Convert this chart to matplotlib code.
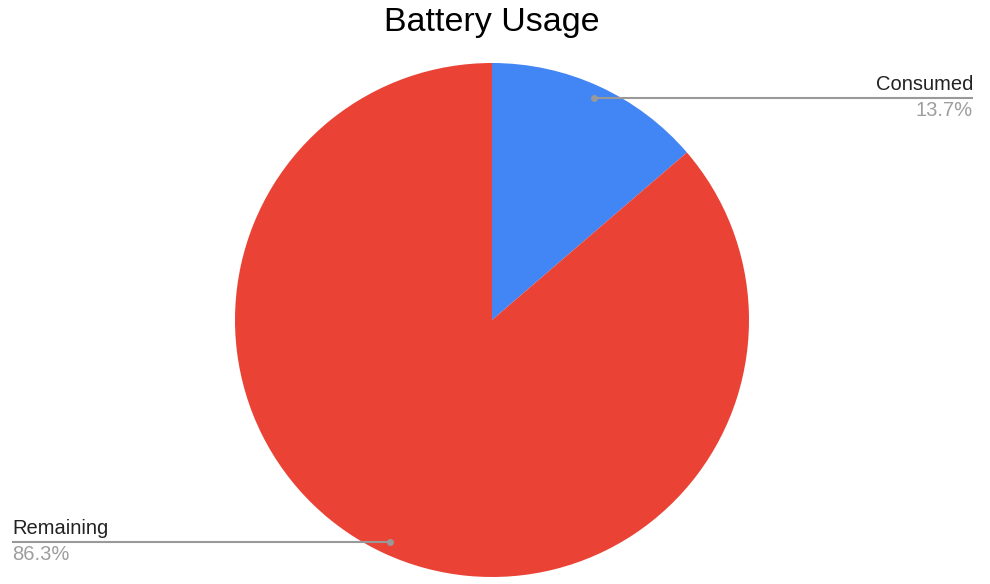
import matplotlib.pyplot as plt
import numpy as np

plt.rcParams['font.family'] = ['Liberation Sans', 'DejaVu Sans']

labels = ['Consumed', 'Remaining']
values = [13.7, 86.3]
colors = ['#4285F4', '#EA4335']

W, H = 990, 584
fig = plt.figure(figsize=(W / 100, H / 100), dpi=100)
ax = fig.add_axes([0, 0, 1, 1])

cx, cy, R = 492, 320, 257
# y axis is flipped (pixel coords), so start at -90 and go counterclockwise in data
# space -> starts at the top and runs clockwise on screen
wedges, _ = ax.pie(values, colors=colors, startangle=-90, counterclock=True,
                   center=(cx, cy), radius=R, frame=True,
                   wedgeprops=dict(linewidth=0))
ax.set_xlim(0, W)
ax.set_ylim(H, 0)
ax.axis('off')

ax.text(cx, 22, 'Battery Usage', ha='center', va='center', fontsize=24.5, color='#000000')

line_c = '#999999'
total = sum(values)
start = 0
for lab, val in zip(labels, values):
    mid = (start + val / 2) / total * 2 * np.pi
    start += val
    dx, dy = 0.95 * R * np.sin(mid), -0.95 * R * np.cos(mid)
    px, py = cx + dx, cy + dy
    if dx >= 0:
        ex, ha = 973, 'right'
    else:
        ex, ha = 12, 'left'
    ax.plot([px, ex], [py, py], color=line_c, lw=1.5, solid_capstyle='butt')
    ax.plot(px, py, 'o', color=line_c, ms=5, mec='none')
    ax.text(ex, py - 4, lab, ha=ha, va='bottom', fontsize=14.5, color='#222222')
    ax.text(ex, py + 3, f'{val:.1f}%', ha=ha, va='top', fontsize=14.5, color='#9e9e9e')

fig.savefig('out.png', dpi=100, facecolor='white')
